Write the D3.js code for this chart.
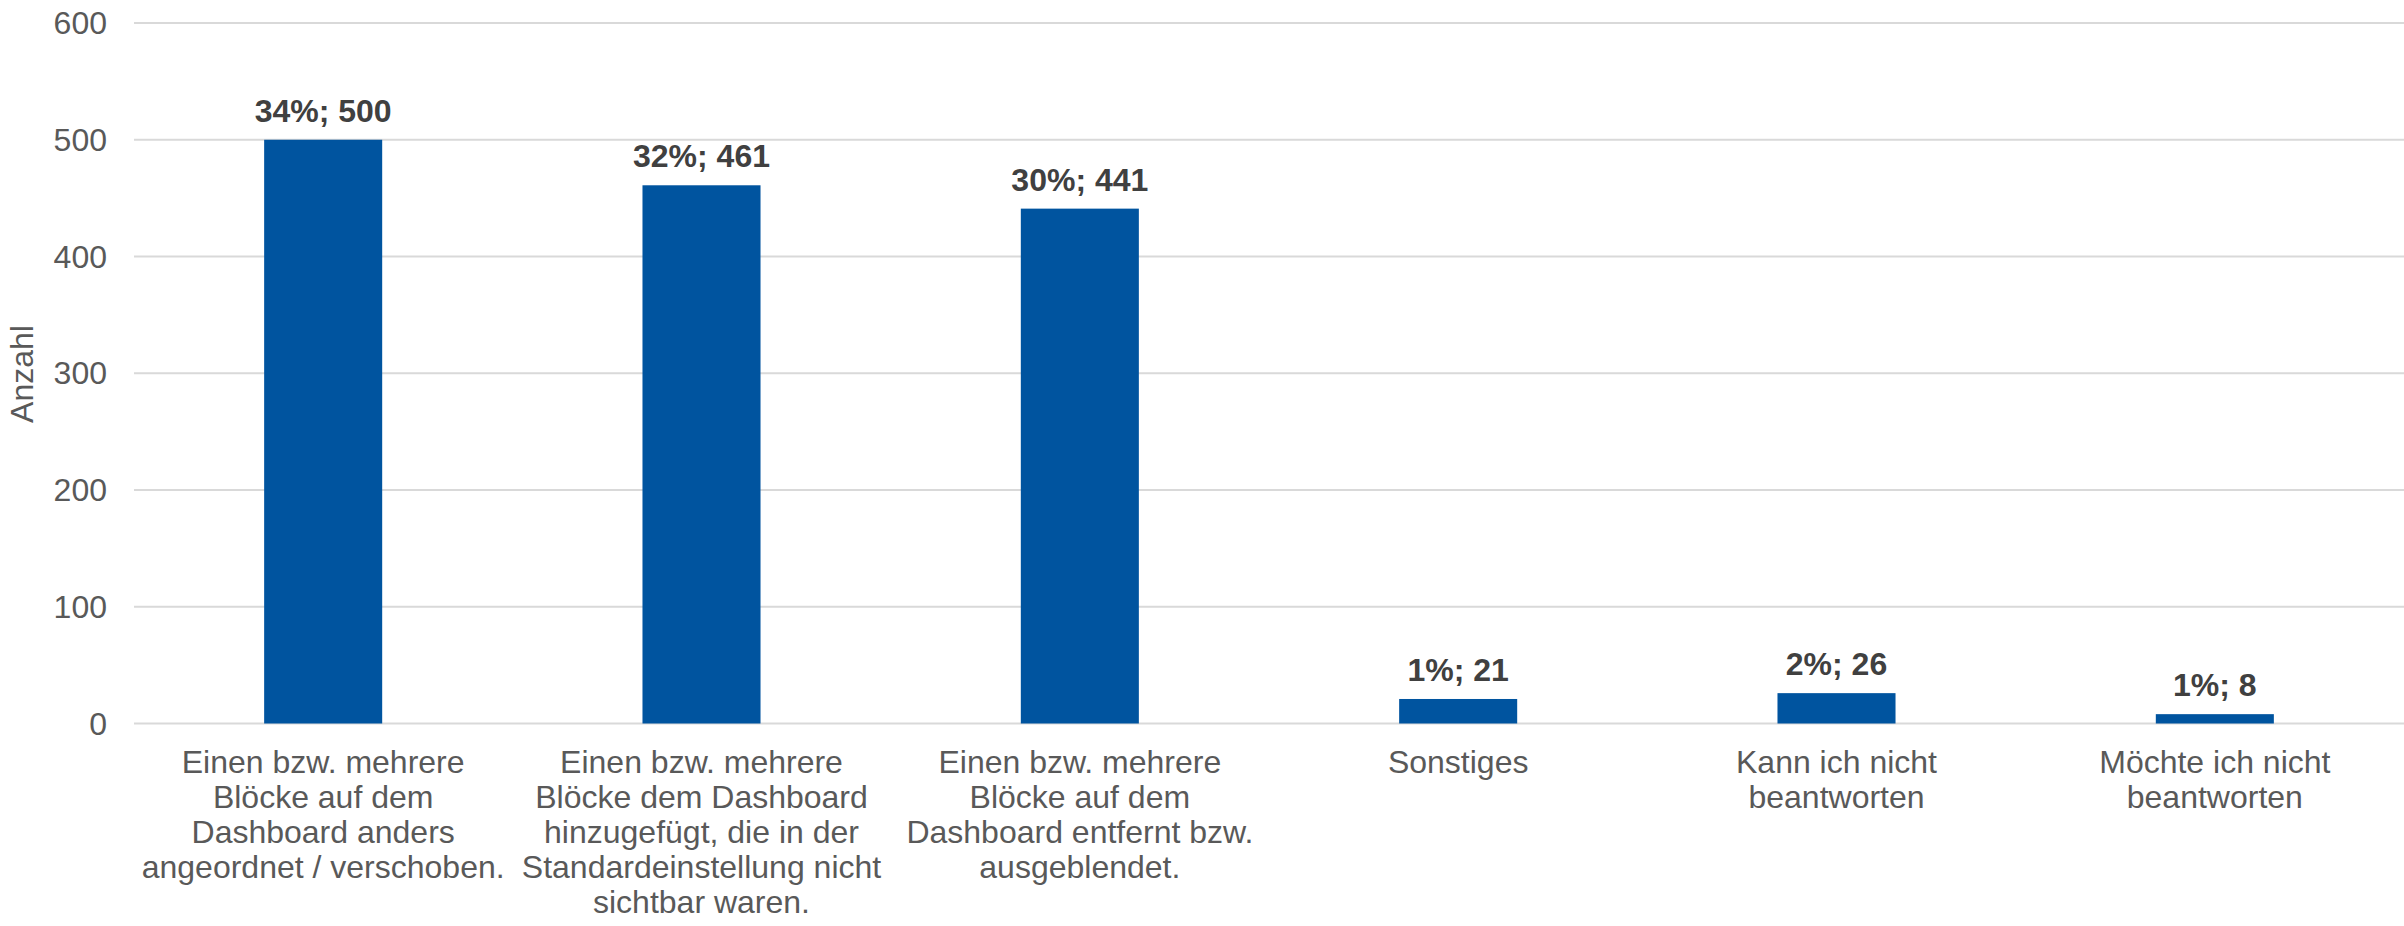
<!DOCTYPE html>
<html>
<head>
<meta charset="utf-8">
<script src="https://cdn.jsdelivr.net/npm/d3@7"></script>
<style>
  body { margin: 0; background: #ffffff; }
  svg { font-family: "Liberation Sans", Arial, sans-serif; }
</style>
</head>
<body>
<svg id="viz"></svg>
<script>
var width = 2404;
var height = 926;

// data
var categories = [
    ["Einen bzw. mehrere", "Blöcke auf dem", "Dashboard anders", "angeordnet / verschoben."],
    ["Einen bzw. mehrere", "Blöcke dem Dashboard", "hinzugefügt, die in der", "Standardeinstellung nicht", "sichtbar waren."],
    ["Einen bzw. mehrere", "Blöcke auf dem", "Dashboard entfernt bzw.", "ausgeblendet."],
    ["Sonstiges"],
    ["Kann ich nicht", "beantworten"],
    ["Möchte ich nicht", "beantworten"]
];
var counts = [500, 461, 441, 21, 26, 8];
var percents = [34, 32, 30, 1, 2, 1];
var yTicks = [0, 100, 200, 300, 400, 500, 600];

var svg = d3.select("#viz")
    .attr("width", width)
    .attr("height", height);

var x = d3.scaleBand()
    .domain(d3.range(categories.length))
    .range([134, 2404])
    .paddingInner(0.688)
    .paddingOuter(0.344);

var y = d3.scaleLinear()
    .domain([0, 600])
    .range([723.5, 23]);

//gridlines
svg.append("g")
    .selectAll("line")
    .data(yTicks)
    .enter().append("line")
    .attr("x1", 134)
    .attr("x2", width)
    .attr("y1", function(d) { return y(d); })
    .attr("y2", function(d) { return y(d); })
    .style("stroke", "#d9d9d9")
    .style("stroke-width", 2);

//y axis labels
var yAxis = d3.axisLeft(y)
    .tickValues(yTicks)
    .tickSize(0)
    .tickPadding(0);

var yg = svg.append("g")
    .attr("transform", "translate(107,0)")
    .call(yAxis);
yg.select(".domain").remove();
yg.selectAll("text")
    .attr("font-size", 32)
    .attr("font-family", "Liberation Sans, Arial, sans-serif")
    .attr("fill", "#595959")
    .attr("dy", "0.33em");

svg.append("text")
    .attr("transform", "translate(33,374) rotate(-90)")
    .attr("text-anchor", "middle")
    .attr("font-size", 32)
    .attr("fill", "#595959")
    .text("Anzahl");

//bars
svg.append("g")
    .selectAll("rect")
    .data(counts)
    .enter().append("rect")
    .attr("x", function(d, i) { return x(i); })
    .attr("width", x.bandwidth())
    .attr("y", function(d) { return y(d); })
    .attr("height", function(d) { return y(0) - y(d); })
    .attr("fill", "#00549f");

//data labels
svg.append("g")
    .selectAll("text")
    .data(counts)
    .enter().append("text")
    .attr("x", function(d, i) { return x(i) + x.bandwidth() / 2; })
    .attr("y", function(d) { return y(d) - 18; })
    .attr("text-anchor", "middle")
    .attr("font-size", 32)
    .attr("font-weight", "bold")
    .attr("fill", "#404040")
    .text(function(d, i) { return percents[i] + "%; " + d; });

//category labels
var cats = svg.append("g")
    .selectAll("text")
    .data(categories)
    .enter().append("text")
    .attr("x", function(d, i) { return x(i) + x.bandwidth() / 2; })
    .attr("y", 773)
    .attr("text-anchor", "middle")
    .attr("font-size", 32)
    .attr("fill", "#595959");

cats.selectAll("tspan")
    .data(function(d) { return d; })
    .enter().append("tspan")
    .attr("x", function() { return d3.select(this.parentNode).attr("x"); })
    .attr("dy", function(d, j) { return j === 0 ? 0 : 35; })
    .text(function(d) { return d; });
</script>
</body>
</html>
